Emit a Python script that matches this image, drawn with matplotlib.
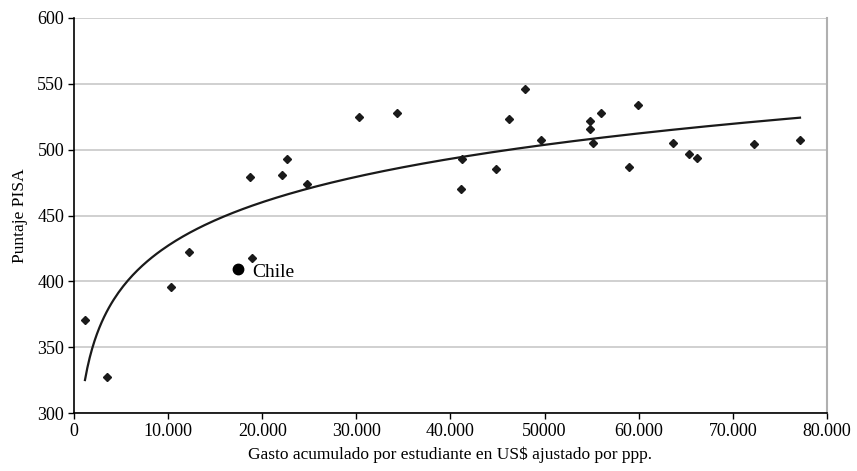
import numpy as np
import matplotlib
matplotlib.use('Agg')
import matplotlib.pyplot as plt

# gasto acumulado por estudiante (US$ ppp) y puntaje PISA
gasto = [1170, 3550, 10350, 12200, 18650, 18900, 22060, 22630, 24720,
         30250, 34330, 41170, 41240, 44790, 46200, 47940, 49570,
         54790, 54860, 55110, 56030, 58970, 59930, 63690, 65290,
         66240, 72200, 77130]
puntaje = [371, 327, 396, 422, 479, 418, 481, 493, 474,
           525, 528, 470, 493, 485, 523, 546, 507,
           522, 516, 505, 528, 487, 534, 505, 497,
           494, 504, 507]

chile_gasto = 17480
chile_puntaje = 409

xticks = [0, 10000, 20000, 30000, 40000, 50000, 60000, 70000, 80000]
xtick_labels = ['0', '10.000', '20.000', '30.000', '40.000', '50000',
                '60.000', '70.000', '80.000']
yticks = [300, 350, 400, 450, 500, 550, 600]

plt.rcParams['font.family'] = ['Liberation Serif', 'DejaVu Serif']

fig = plt.figure(figsize=(8.57, 4.71), dpi=100)
ax = fig.add_axes([0.0863, 0.1231, 0.8787, 0.8387])

# linea de tendencia logaritmica ajustada a los datos (incluye Chile)
gx = np.array(gasto + [chile_gasto], dtype=float)
gy = np.array(puntaje + [chile_puntaje], dtype=float)
a, b = np.polyfit(np.log(gx), gy, 1)
xs = np.linspace(min(gasto), max(gasto), 300)
ax.plot(xs, a * np.log(xs) + b, color='#1a1a1a', lw=1.6, zorder=3)

ax.plot(gasto, puntaje, 'D', color='#1a1a1a', ms=4.5, zorder=4)
ax.plot([chile_gasto], [chile_puntaje], 'o', color='black', ms=7.5, zorder=4)
ax.text(chile_gasto + 1500, chile_puntaje - 2, 'Chile', fontsize=14,
        va='center', ha='left')

ax.set_xlim(0, 80000)
ax.set_ylim(300, 600)
ax.set_xticks(xticks)
ax.set_xticklabels(xtick_labels)
ax.set_yticks(yticks)
ax.tick_params(labelsize=13, length=4, width=1, direction='out', pad=3)
ax.grid(axis='y', color='#c8c8c8', lw=1.2)
ax.set_axisbelow(True)

for s in ['top', 'right']:
    ax.spines[s].set_color('#b0b0b0')
    ax.spines[s].set_linewidth(1.5)
ax.spines['top'].set_visible(False)
for s in ['left', 'bottom']:
    ax.spines[s].set_linewidth(1.2)

ax.set_xlabel('Gasto acumulado por estudiante en US$ ajustado por ppp.',
              fontsize=12.5, labelpad=5)
ax.set_ylabel('Puntaje PISA', fontsize=12.5, labelpad=7)

fig.savefig('out.png', dpi=100)
